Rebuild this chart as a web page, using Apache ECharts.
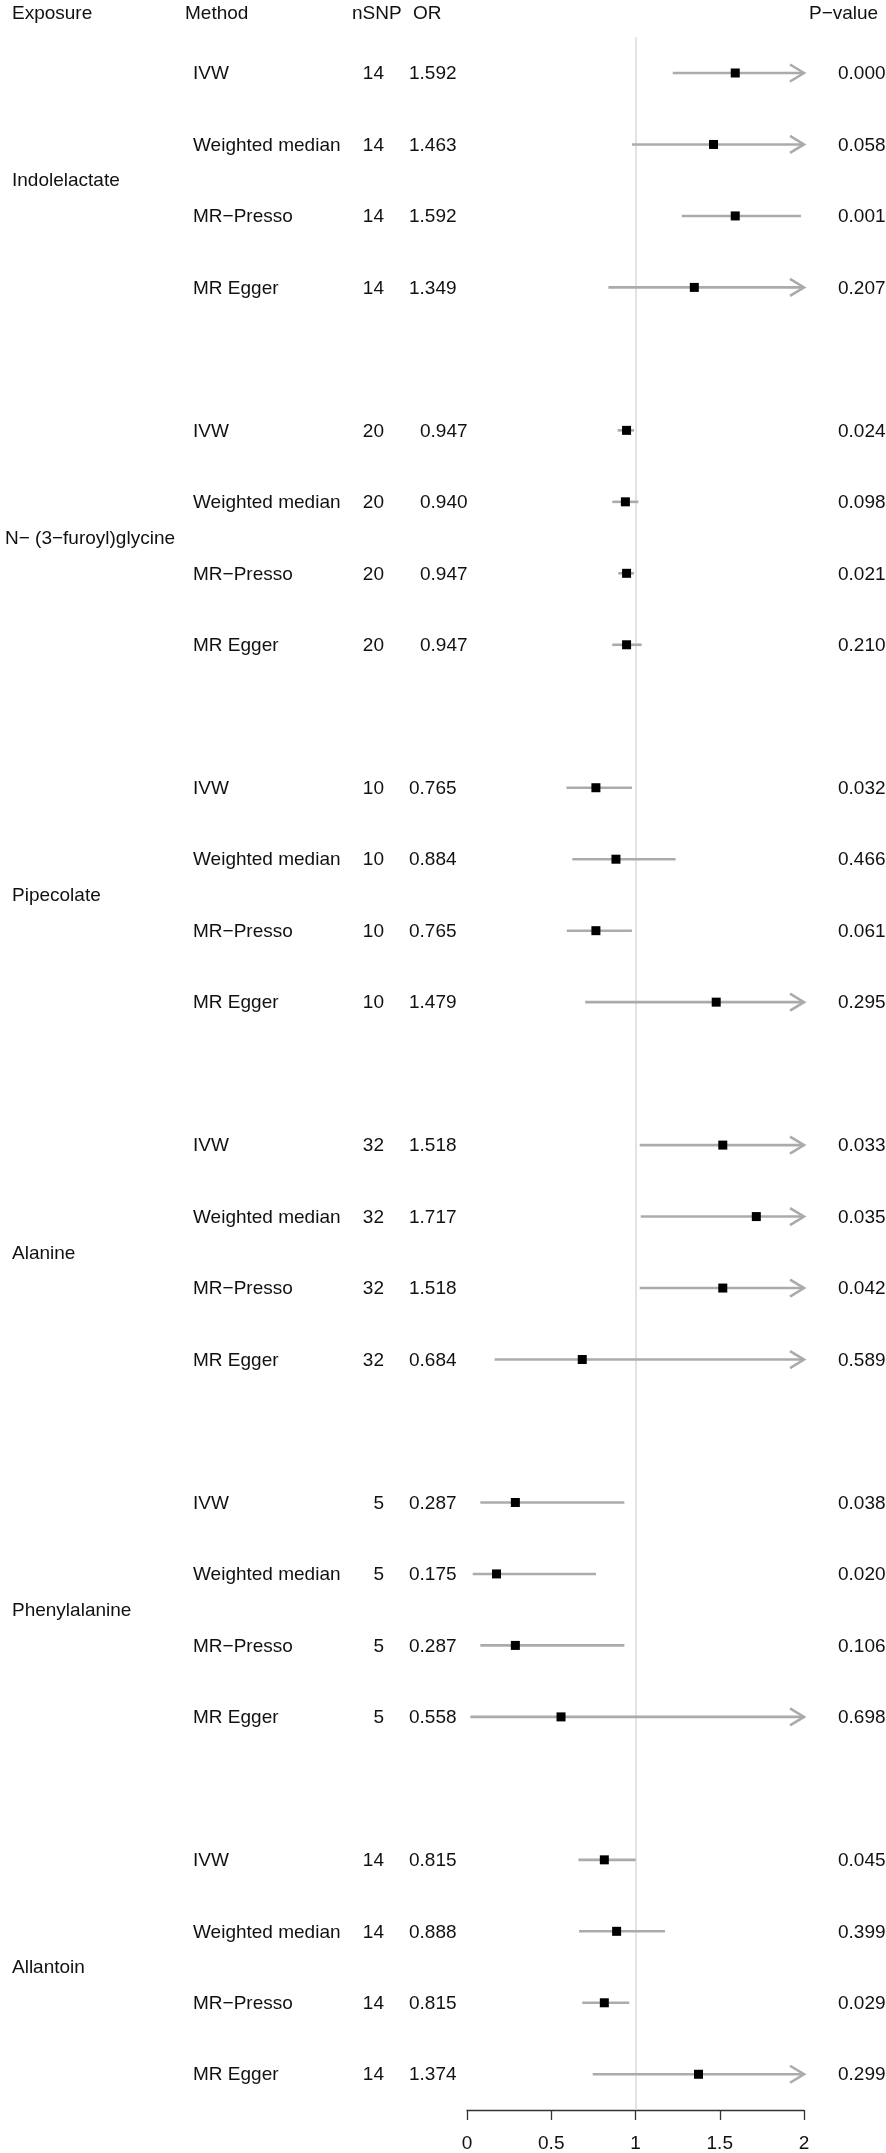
<!DOCTYPE html>
<html>
<head>
<meta charset="utf-8">
<script src="https://cdn.jsdelivr.net/npm/echarts@6.0.0/dist/echarts.min.js"></script>
<style>
  body { margin: 0; padding: 0; background: #fff; }
  #chart { width: 886px; height: 2153px; }
</style>
</head>
<body>
<div id="chart"></div>
<script>
// MR forest plot: 6 exposures x 4 methods
const exposures = ['Indolelactate', 'N\u2212 (3\u2212furoyl)glycine', 'Pipecolate', 'Alanine', 'Phenylalanine', 'Allantoin'];
const methods = ['IVW', 'Weighted median', 'MR\u2212Presso', 'MR Egger'];
const nSNP = [14, 20, 10, 32, 5, 14];

// one entry per exposure x method, in plot order
const orValues = [
  1.592, 1.463, 1.592, 1.349,
  0.947, 0.940, 0.947, 0.947,
  0.765, 0.884, 0.765, 1.479,
  1.518, 1.717, 1.518, 0.684,
  0.287, 0.175, 0.287, 0.558,
  0.815, 0.888, 0.815, 1.374
];
const ciLower = [
  1.221, 0.979, 1.274, 0.839,
  0.894, 0.862, 0.898, 0.862,
  0.590, 0.625, 0.592, 0.702,
  1.025, 1.031, 1.025, 0.164,
  0.079, 0.034, 0.079, 0.020,
  0.661, 0.665, 0.684, 0.746
];
// uppers beyond 2 are cut off by the axis (drawn as arrows), values estimated
const ciUpper = [
  2.076, 2.186, 1.982, 2.169,
  0.991, 1.017, 0.991, 1.037,
  0.979, 1.238, 0.979, 3.116,
  2.248, 2.859, 2.248, 2.853,
  0.934, 0.766, 0.934, 12.0,
  1.001, 1.175, 0.963, 2.531
];
const pValues = [
  '0.000', '0.058', '0.001', '0.207',
  '0.024', '0.098', '0.021', '0.210',
  '0.032', '0.466', '0.061', '0.295',
  '0.033', '0.035', '0.042', '0.589',
  '0.038', '0.020', '0.106', '0.698',
  '0.045', '0.399', '0.029', '0.299'
];
const xTicks = [0, 0.5, 1, 1.5, 2];

// layout
const FONT = '"Liberation Sans", Arial, Helvetica, sans-serif';
const FS = 19;
const TXT = '#111';
const CI_COLOR = '#ababab';
const X_MAX = xTicks[xTicks.length - 1];
const ROWS_PER_GROUP = methods.length + 1; // one blank row between exposures
const N_SLOTS = exposures.length * ROWS_PER_GROUP - 1;
const COL = { exposure: 12, method: 193, nsnp: 384, or: 409, p: 838 };

function slotOf(i) {
  const g = Math.floor(i / methods.length);
  return g * ROWS_PER_GROUP + (i % methods.length);
}

const ciData = orValues.map((v, i) => [slotOf(i), ciLower[i], ciUpper[i]]);
const pointData = orValues.map((v, i) => [v, slotOf(i)]);
const rowData = orValues.map((v, i) => [0, slotOf(i)]);
const groupData = exposures.map((e, g) => [0, g * ROWS_PER_GROUP + (methods.length - 1) / 2]);

function txt(x, y, text, align) {
  return {
    type: 'text',
    style: {
      x: x, y: y, text: text, fill: TXT,
      font: FS + 'px ' + FONT,
      align: align || 'left', verticalAlign: 'middle'
    }
  };
}

function renderCI(params, api) {
  const row = api.value(0);
  const lo = api.value(1);
  const hi = api.value(2);
  const a = api.coord([lo, row]);
  const b = api.coord([Math.min(hi, X_MAX), row]);
  const style = { stroke: CI_COLOR, lineWidth: 2.6, fill: null };
  const children = [{
    type: 'line',
    shape: { x1: a[0], y1: a[1], x2: b[0], y2: b[1] },
    style: style
  }];
  if (hi > X_MAX) {
    children.push({
      type: 'polyline',
      shape: { points: [[b[0] - 14, b[1] - 8.5], [b[0], b[1]], [b[0] - 14, b[1] + 8.5]] },
      style: style
    });
  }
  return { type: 'group', children: children };
}

function renderRow(params, api) {
  const i = params.dataIndex;
  const g = Math.floor(i / methods.length);
  const y = api.coord([0, api.value(1)])[1] + 1;
  const orX = COL.or + (g === 1 ? 11 : 0);
  return {
    type: 'group',
    children: [
      txt(COL.method, y, methods[i % methods.length]),
      txt(COL.nsnp, y, String(nSNP[g]), 'right'),
      txt(orX, y, orValues[i].toFixed(3)),
      txt(COL.p, y, pValues[i])
    ]
  };
}

function renderGroup(params, api) {
  const g = params.dataIndex;
  const y = api.coord([0, api.value(1)])[1] + 1;
  const x = COL.exposure - (g === 1 ? 7 : 0);
  return txt(x, y, exposures[g]);
}

const chart = echarts.init(document.getElementById('chart'));
chart.setOption({
  animation: false,
  backgroundColor: '#fff',
  grid: { left: 467, width: 337, top: 37.25, height: 2073.5 },
  xAxis: {
    type: 'value',
    min: xTicks[0],
    max: X_MAX,
    interval: 0.5,
    splitLine: { show: false },
    axisLine: { show: true, onZero: false, lineStyle: { color: '#333', width: 1.3 } },
    axisTick: { show: true, length: 10, lineStyle: { color: '#333', width: 1.3 } },
    axisLabel: { fontSize: FS, color: TXT, fontFamily: FONT, margin: 24 }
  },
  yAxis: {
    type: 'value',
    min: -0.5,
    max: N_SLOTS - 0.5,
    inverse: true,
    show: false
  },
  graphic: [
    { type: 'text', left: 12, top: 4, style: { text: 'Exposure', font: FS + 'px ' + FONT, fill: TXT } },
    { type: 'text', left: 185, top: 4, style: { text: 'Method', font: FS + 'px ' + FONT, fill: TXT } },
    { type: 'text', left: 352, top: 4, style: { text: 'nSNP', font: FS + 'px ' + FONT, fill: TXT } },
    { type: 'text', left: 413, top: 4, style: { text: 'OR', font: FS + 'px ' + FONT, fill: TXT } },
    { type: 'text', left: 809, top: 4, style: { text: 'P\u2212value', font: FS + 'px ' + FONT, fill: TXT } }
  ],
  series: [
    {
      name: 'ci',
      type: 'custom',
      clip: false,
      z: 2,
      renderItem: renderCI,
      encode: { x: [1, 2], y: 0 },
      data: ciData,
      markLine: {
        silent: true,
        symbol: 'none',
        label: { show: false },
        lineStyle: { color: '#dcdcdc', width: 1.6, type: 'solid' },
        data: [{ xAxis: 1 }],
        z: 1
      }
    },
    {
      name: 'OR',
      type: 'scatter',
      symbol: 'rect',
      symbolSize: 9,
      z: 3,
      itemStyle: { color: '#000', opacity: 1 },
      data: pointData
    },
    {
      name: 'rows',
      type: 'custom',
      clip: false,
      renderItem: renderRow,
      encode: { x: 0, y: 1 },
      data: rowData
    },
    {
      name: 'groups',
      type: 'custom',
      clip: false,
      renderItem: renderGroup,
      encode: { x: 0, y: 1 },
      data: groupData
    }
  ]
});
</script>
</body>
</html>
